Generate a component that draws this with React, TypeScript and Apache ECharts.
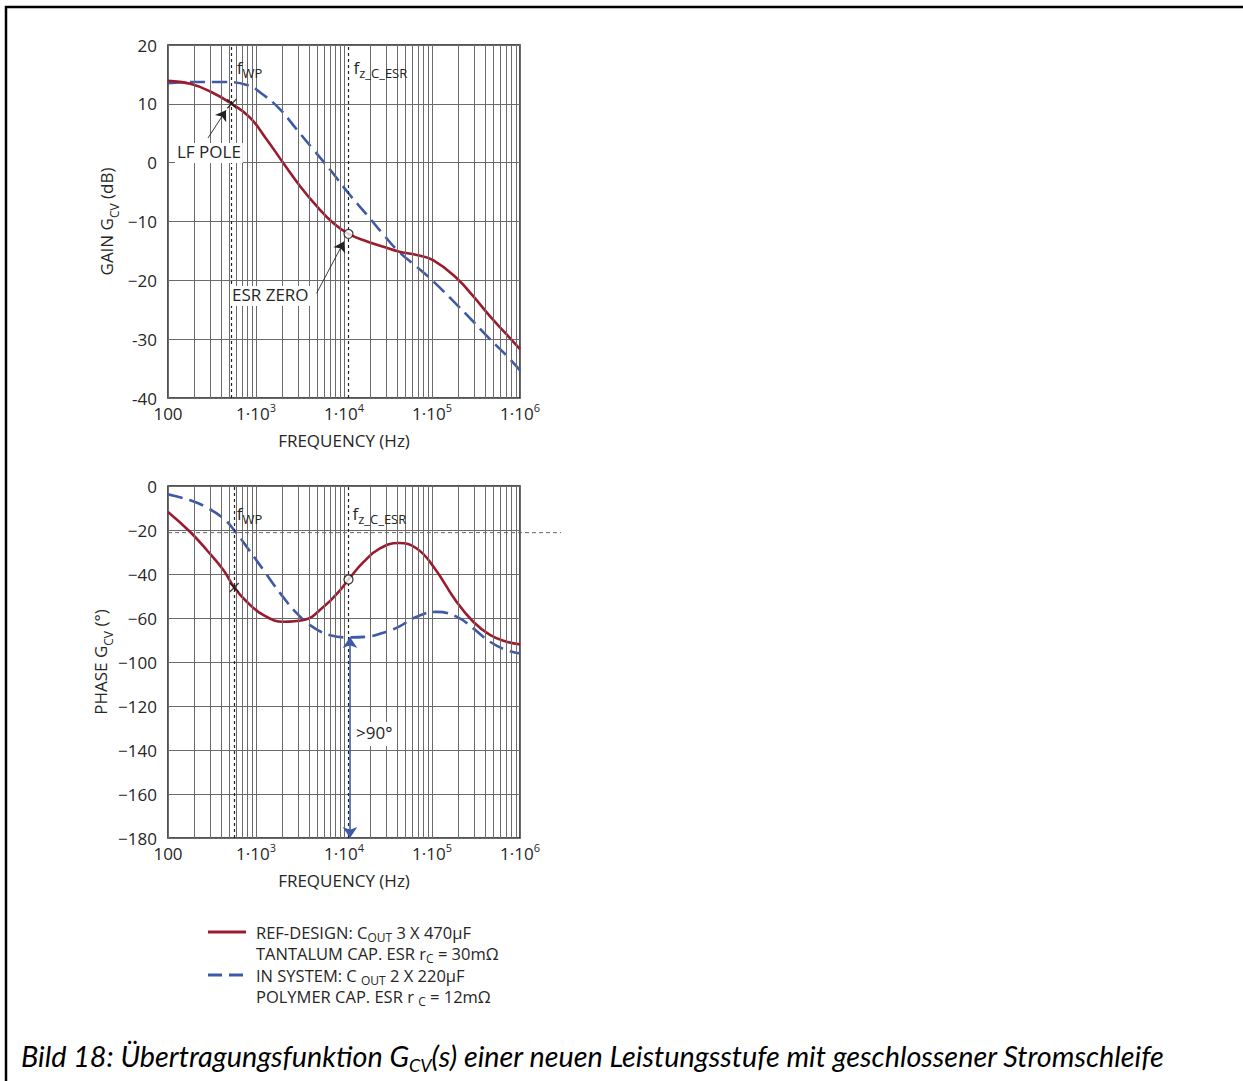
import React, { useEffect, useRef } from "react";
import * as echarts from "echarts";

// ---------- data ----------
const SERIES_NAMES = ["REF-DESIGN", "IN SYSTEM"];

const FREQ_TICK_LABELS = ["100", "1·10{sup|3}", "1·10{sup|4}", "1·10{sup|5}", "1·10{sup|6}"];
const GAIN_TICK_LABELS = ["20", "10", "0", "−10", "−20", "-30", "-40"]; // top → bottom
// the source figure labels its phase grid (9 equal steps) like this
const PHASE_TICK_LABELS = ["0", "−20", "−40", "−60", "−100", "−120", "−140", "−160", "−180"]; // top → bottom

const MINOR_FREQS = [
  200, 300, 400, 500, 600, 700, 800, 900,
  2000, 3000, 4000, 5000, 6000, 7000, 8000, 9000,
  20000, 30000, 40000, 50000, 60000, 70000, 80000, 90000,
  200000, 300000, 400000, 500000, 600000, 700000, 800000, 900000,
];

const RED_GAIN_F = [100, 179, 302, 533, 860, 1330, 2050, 3170, 4900, 7600, 11250, 18300, 28000, 41700, 67000, 104000, 190000, 294000, 455000, 705000, 1000000];
const RED_GAIN_DB = [13.9, 13.4, 12.1, 10.0, 7.6, 3.9, -0.1, -4.0, -7.4, -10.3, -12.1, -13.4, -14.3, -15.1, -15.7, -16.6, -19.6, -22.7, -26.1, -29.2, -31.7];

const BLUE_GAIN_F = [100, 179, 428, 786, 1220, 1890, 2920, 4500, 6970, 11250, 18300, 28000, 41700, 67000, 104000, 190000, 294000, 455000, 705000, 1000000];
const BLUE_GAIN_DB = [13.5, 13.7, 13.7, 13.2, 11.5, 9.0, 5.6, 2.2, -1.2, -5.2, -8.9, -12.2, -15.1, -17.7, -20.2, -24.1, -27.0, -30.0, -32.8, -35.3];

const RED_PHASE_F = [100, 179, 277, 428, 566, 786, 1220, 2050, 3480, 5860, 9040, 11250, 16700, 25600, 41700, 67000, 104000, 190000, 294000, 455000, 705000, 1000000];
const RED_PHASE_DEG = [-11.8, -20.9, -29.2, -38.3, -46.1, -52.6, -58.7, -61.7, -60.9, -54.9, -47.3, -42.5, -34.5, -28.4, -25.9, -28.4, -36.7, -52.6, -61.7, -67.7, -70.8, -72.0];

const BLUE_PHASE_F = [100, 179, 277, 428, 566, 786, 1220, 1890, 2920, 4500, 6970, 11250, 18300, 28000, 41700, 67000, 112000, 190000, 294000, 455000, 705000, 1000000];
const BLUE_PHASE_DEG = [-3.8, -6.5, -9.8, -14.8, -20.1, -27.7, -38.3, -48.8, -57.9, -64.3, -67.8, -68.8, -68.5, -66.7, -64.0, -59.4, -57.2, -59.4, -64.7, -70.8, -74.6, -76.1];

const F_WP_GAIN = 530;
const F_WP_PHASE = 560;
const F_Z_ESR = 11250;
const LF_POLE_GAIN = [530, 10];
const ESR_ZERO_GAIN = [11250, -12.1];
const LF_POLE_PHASE = [566, -46.1];
const ESR_ZERO_PHASE = [11250, -42.5];
const PHASE_REF_LINE = -21.2;
const MARGIN_ARROW = [[11700, -68.6], [11700, -160]];
const LF_ARROW = [[285, 4.2], [456, 8.9]];
const ESR_ARROW = [[4880, -22.2], [10000, -13.4]];

const LEGEND_LINES = [
  "REF-DESIGN: C{sub|OUT} 3 X 470µF",
  "TANTALUM CAP. ESR r{sub|C} = 30mΩ",
  "IN SYSTEM: C {sub|OUT} 2 X 220µF",
  "POLYMER CAP. ESR r {sub|C} = 12mΩ",
];
const CAPTION = "Bild 18: Übertragungsfunktion G{sub|CV}(s) einer neuen Leistungsstufe mit geschlossener Stromschleife";

// ---------- style ----------
const FONT = '"Open Sans", "Noto Sans", sans-serif';
const CAP_FONT = "Lato, sans-serif";
const TXT = "#262626";
const GRIDC = "#6b6b6b";
const RED = "#9c1a2e";
const BLUE = "#3c5aa8";
const FS = 17;

const zip = (xs: number[], ys: number[]) => xs.map((x, i) => [x, ys[i]]);

// wrap plain parts of a string into {b|...} tokens
const tok = (s: string) =>
  s
    .split(/(\{(?:sub|sup)\|[^}]*\})/)
    .filter((p) => p.length > 0)
    .map((p) => (p.startsWith("{sub|") || p.startsWith("{sup|") ? p : `{b|${p}}`))
    .join("");

const supRich = {
  b: { fontSize: FS, fontFamily: FONT, color: TXT, lineHeight: 18, verticalAlign: "bottom" },
  sup: { fontSize: 11, fontFamily: FONT, color: TXT, lineHeight: 11, padding: [0, 0, 9, 0], verticalAlign: "bottom" },
};
const subRich = (size: number, color = TXT, family = FONT, style = "normal", ratio = 0.7, drop = 0.58, bl = 1.2) => {
  const s = Math.round(size * ratio);
  return {
    b: { fontSize: size, fontFamily: family, fontStyle: style, color, fill: color, lineHeight: Math.round(size * bl), verticalAlign: "top" },
    sub: {
      fontSize: s, fontFamily: family, fontStyle: style, color, fill: color, lineHeight: s,
      padding: [Math.round(size * drop), 0, 0, 0], verticalAlign: "top",
    },
  };
};

function xAxisOf(grid: number) {
  return {
    gridIndex: grid,
    type: "log",
    logBase: 10,
    min: 100,
    max: 1000000,
    axisLine: { show: false },
    axisTick: { show: false },
    splitLine: { show: true, lineStyle: { color: GRIDC, width: 1 } },
    axisLabel: {
      margin: 6,
      formatter: (v: number) => tok(FREQ_TICK_LABELS[Math.round(Math.log10(v)) - 2]),
      rich: supRich,
    },
    name: "FREQUENCY (Hz)",
    nameLocation: "middle",
    nameGap: 34,
    nameTextStyle: { fontFamily: FONT, fontSize: FS, color: TXT },
  };
}

export default function App() {
  const ref = useRef<HTMLDivElement>(null);
  useEffect(() => {
    document.body.style.margin = "0";
    const chart = echarts.init(ref.current!, null, { renderer: "svg" });
    const gridHelper = (xi: number, wp: number) => ({
      type: "line",
      xAxisIndex: xi,
      yAxisIndex: xi,
      data: [],
      z: 1,
      silent: true,
      markLine: {
        silent: true,
        symbol: "none",
        label: { show: false },
        animation: false,
        data: [
          ...MINOR_FREQS.map((f) => ({ xAxis: f, lineStyle: { color: GRIDC, width: 1, type: "solid" } })),
          { xAxis: wp, lineStyle: { color: "#222", width: 1.2, type: [3, 3] } },
          { xAxis: F_Z_ESR, lineStyle: { color: "#222", width: 1.2, type: [3, 3] } },
        ],
      },
    });
    const arrowLine = (xi: number, pts: number[][], color: string, width: number, both: boolean) => ({
      type: "line",
      xAxisIndex: xi,
      yAxisIndex: xi,
      data: [],
      z: 6,
      silent: true,
      markLine: {
        silent: true,
        animation: false,
        symbol: both ? ["arrow", "arrow"] : ["none", "arrow"],
        symbolSize: both ? 11 : 10,
        label: { show: false },
        lineStyle: { color, width, type: "solid" },
        data: [[{ coord: pts[0] }, { coord: pts[1] }]],
      },
    });
    const curve = (xi: number, name: string, data: number[][], color: string, dashed: boolean) => ({
      type: "line",
      name,
      xAxisIndex: xi,
      yAxisIndex: xi,
      data,
      smooth: 0.45,
      showSymbol: false,
      z: 4,
      lineStyle: { color, width: 2.6, type: dashed ? [15, 7] : "solid" },
    });
    const markers = (xi: number, cross: number[], circ: number[]) => [
      {
        type: "scatter", xAxisIndex: xi, yAxisIndex: xi, z: 7, silent: true,
        symbol: "path://M0,0L10,10M10,0L0,10", symbolSize: 9,
        itemStyle: { color: "none", borderColor: "#111", borderWidth: 1.4 },
        data: [cross],
      },
      {
        type: "scatter", xAxisIndex: xi, yAxisIndex: xi, z: 7, silent: true,
        symbol: "circle", symbolSize: 9,
        itemStyle: { color: "#fff", borderColor: "#111", borderWidth: 1.3 },
        data: [circ],
      },
    ];
    const yName = (label: string) => ({
      name: tok(label),
      nameLocation: "middle",
      nameGap: 50,
      nameRotate: 90,
      nameTextStyle: { fontFamily: FONT, fontSize: FS, color: TXT, rich: subRich(FS) },
    });

    chart.setOption({
      animation: false,
      backgroundColor: "#fff",
      textStyle: { fontFamily: FONT },
      grid: [
        { left: 168, top: 45, width: 352, height: 353, show: true, borderColor: "#1a1a1a", borderWidth: 1.5, backgroundColor: "transparent" },
        { left: 168, top: 486, width: 352, height: 352, show: true, borderColor: "#1a1a1a", borderWidth: 1.5, backgroundColor: "transparent" },
      ],
      xAxis: [xAxisOf(0), xAxisOf(1)],
      yAxis: [
        {
          gridIndex: 0, type: "value", min: -40, max: 20, interval: 10,
          axisLine: { show: false }, axisTick: { show: false },
          splitLine: { lineStyle: { color: GRIDC, width: 1 } },
          axisLabel: { margin: 11, fontFamily: FONT, fontSize: FS, color: TXT, formatter: (v: number) => GAIN_TICK_LABELS[Math.round((20 - v) / 10)] },
          ...yName("GAIN G{sub|CV} (dB)"),
        },
        {
          gridIndex: 1, type: "value", min: -160, max: 0, interval: 20,
          axisLine: { show: false }, axisTick: { show: false },
          splitLine: { lineStyle: { color: GRIDC, width: 1 } },
          axisLabel: { margin: 11, fontFamily: FONT, fontSize: FS, color: TXT, formatter: (v: number) => PHASE_TICK_LABELS[Math.round(-v / 20)] },
          ...yName("PHASE G{sub|CV} (°)"),
        },
      ],
      series: [
        gridHelper(0, F_WP_GAIN),
        gridHelper(1, F_WP_PHASE),
        curve(0, SERIES_NAMES[1], zip(BLUE_GAIN_F, BLUE_GAIN_DB), BLUE, true),
        curve(0, SERIES_NAMES[0], zip(RED_GAIN_F, RED_GAIN_DB), RED, false),
        curve(1, SERIES_NAMES[1], zip(BLUE_PHASE_F, BLUE_PHASE_DEG), BLUE, true),
        curve(1, SERIES_NAMES[0], zip(RED_PHASE_F, RED_PHASE_DEG), RED, false),
        ...markers(0, LF_POLE_GAIN, ESR_ZERO_GAIN),
        ...markers(1, LF_POLE_PHASE, ESR_ZERO_PHASE),
        arrowLine(0, LF_ARROW, "#222", 0.9, false),
        arrowLine(0, ESR_ARROW, "#222", 0.9, false),
        arrowLine(1, MARGIN_ARROW, BLUE, 1.6, true),
      ],
    });

    const px = (gi: number, p: number[]) => chart.convertToPixel({ gridIndex: gi }, p) as number[];
    const wpTop = px(0, [F_WP_GAIN, 20]);
    const zTop = px(0, [F_Z_ESR, 20]);
    const wpBot = px(1, [F_WP_PHASE, 0]);
    const zBot = px(1, [F_Z_ESR, 0]);
    const refL = px(1, [100, PHASE_REF_LINE]);
    const refR = px(1, [1000000, PHASE_REF_LINE]);

    const txt = (text: string, x: number, y: number, rich: any, extra: any = {}) => ({
      type: "text",
      z: 20,
      silent: true,
      style: {
        text: tok(text), x, y, fill: TXT, fontSize: FS, fontFamily: FONT,
        align: "left", textAlign: "left", verticalAlign: "middle", textVerticalAlign: "middle",
        rich, ...extra,
      },
    });
    const r17 = subRich(FS);
    const rLeg = subRich(16.5, TXT, FONT, "normal", 0.72, 0.4);
    const rF = subRich(17, TXT, FONT, "normal", 0.78, 0.42);

    chart.setOption({
      graphic: [
        { type: "polyline", silent: true, z: 30, shape: { points: [[6, 1081], [6, 7], [1243, 7]] }, style: { stroke: "#000", lineWidth: 2.5, fill: "none" } },
        {
          type: "line", silent: true, z: 3,
          shape: { x1: refL[0], y1: refL[1], x2: refR[0] + 41, y2: refR[1] },
          style: { stroke: "#666", lineWidth: 1, lineDash: [4, 3] },
        },
        txt("f{sub|WP}", wpTop[0] + 5, wpTop[1] + 24, rF),
        txt("f{sub|z_C_ESR}", zTop[0] + 5, zTop[1] + 24, rF),
        txt("f{sub|WP}", wpBot[0] + 3, wpBot[1] + 29, rF),
        txt("f{sub|z_C_ESR}", zBot[0] + 4, zBot[1] + 29, rF),
        txt("LF POLE", 175, 153, r17, { backgroundColor: "#fff", padding: [0, 2, 0, 2] }),
        txt("ESR ZERO", 230, 296, r17, { backgroundColor: "#fff", padding: [0, 2, 0, 2] }),
        txt(">90°", 354, 734, r17, { backgroundColor: "#fff", padding: [2, 2, 2, 2] }),
        // legend
        { type: "line", silent: true, shape: { x1: 208, y1: 932, x2: 246, y2: 932 }, style: { stroke: RED, lineWidth: 3 } },
        { type: "line", silent: true, shape: { x1: 208, y1: 975, x2: 246, y2: 975 }, style: { stroke: BLUE, lineWidth: 3, lineDash: [14, 7] } },
        txt(LEGEND_LINES[0], 256, 934, rLeg),
        txt(LEGEND_LINES[1], 256, 955, rLeg),
        txt(LEGEND_LINES[2], 256, 977, rLeg),
        txt(LEGEND_LINES[3], 256, 998, rLeg),
        txt(CAPTION, 21, 1059, subRich(28.8, "#000", CAP_FONT, "italic", 0.62, 0.5), { fill: "#000" }),
      ],
    });
    return () => chart.dispose();
  }, []);
  return <div ref={ref} style={{ width: 1243, height: 1081 }} />;
}
